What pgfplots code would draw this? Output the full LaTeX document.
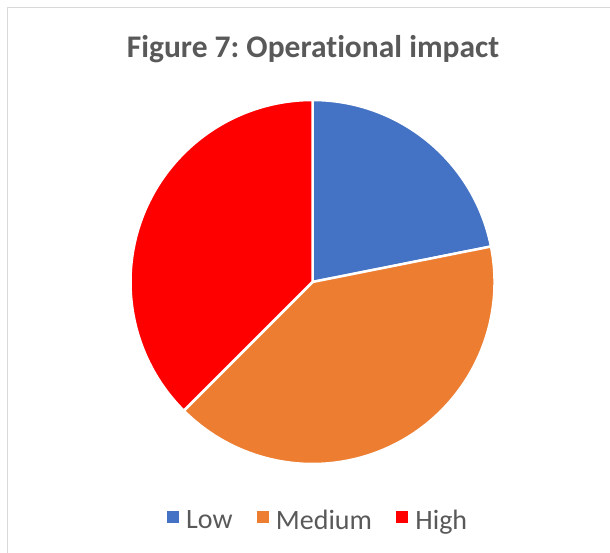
\documentclass[border=0pt]{standalone}
\usepackage{fontspec}
\setmainfont{Carlito}[Ligatures=NoCommon]
\usepackage{pgfplots}
\usepackage{pgfplotstable}
\pgfplotsset{compat=1.18}

\definecolor{lowblue}{HTML}{4472C4}
\definecolor{medorange}{HTML}{ED7D31}
\definecolor{highred}{HTML}{FF0000}
\definecolor{textgray}{HTML}{595959}
\definecolor{framegray}{HTML}{D9D9D9}

% counts per impact level
\pgfplotstableread{
label value
Low 7
Medium 13
High 12
}\piedata

\begin{document}
\frenchspacing
\begin{tikzpicture}
\useasboundingbox (0,0) rectangle (610pt,-553pt);
\draw[framegray, line width=1.4pt] (7.5pt,-600pt) -- (7.5pt,-7.5pt) -- (640pt,-7.5pt);
\node[anchor=base, text=textgray, font=\fontsize{31.5}{36}\selectfont\bfseries]
  at (313pt,-58pt) {Figure 7: Operational impact};

\pgfplotstablegetelem{0}{value}\of\piedata \let\vLow\pgfplotsretval
\pgfplotstablegetelem{1}{value}\of\piedata \let\vMed\pgfplotsretval
\pgfplotstablegetelem{2}{value}\of\piedata \let\vHigh\pgfplotsretval
\pgfmathsetmacro\total{\vLow+\vMed+\vHigh}
\pgfmathsetmacro\aA{90}
\pgfmathsetmacro\aB{\aA-360*\vLow/\total}
\pgfmathsetmacro\aC{\aB-360*\vMed/\total}
\pgfmathsetmacro\aD{\aC-360*\vHigh/\total}

\begin{axis}[
    x=182pt, y=182pt,
    xmin=-1, xmax=1, ymin=-1, ymax=1,
    hide axis, clip=false,
    at={(312.5pt,-282pt)}, anchor=center,
    legend columns=3,
    legend image code/.code={\fill[#1] (0pt,-2pt) rectangle (11pt,9pt);},
    legend style={at={(axis cs:0.03,-1.31)}, anchor=center, draw=none, fill=none,
        font=\fontsize{28}{32}\selectfont, text=textgray,
        /tikz/every odd column/.append style={column sep=6pt},
        /tikz/every even column/.append style={column sep=22pt}},
]
\fill[lowblue, draw=white, line width=2.5pt, line join=round]
  (axis cs:0,0) -- (axis cs:{cos(\aA)},{sin(\aA)}) arc[start angle=\aA, end angle=\aB, radius=182pt] -- cycle;
\fill[medorange, draw=white, line width=2.5pt, line join=round]
  (axis cs:0,0) -- (axis cs:{cos(\aB)},{sin(\aB)}) arc[start angle=\aB, end angle=\aC, radius=182pt] -- cycle;
\fill[highred, draw=white, line width=2.5pt, line join=round]
  (axis cs:0,0) -- (axis cs:{cos(\aC)},{sin(\aC)}) arc[start angle=\aC, end angle=\aD, radius=182pt] -- cycle;
\addlegendimage{lowblue}
\addlegendentry{Low}
\addlegendimage{medorange}
\addlegendentry{Medium}
\addlegendimage{highred}
\addlegendentry{High}
\end{axis}
\end{tikzpicture}
\end{document}
